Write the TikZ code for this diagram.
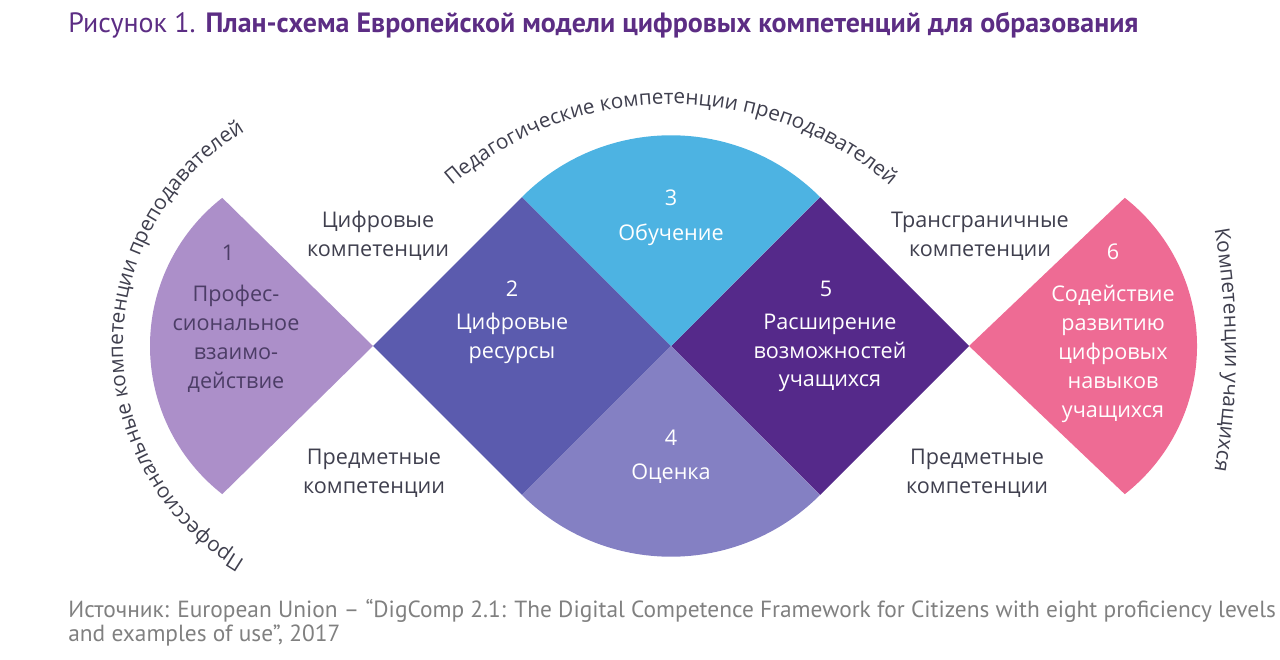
\documentclass[tikz,border=0pt]{standalone}
\usepackage{fontspec}
\usepackage{xcolor}
\usepackage{tikz}
\setmainfont{Open Sans}
\newfontfamily\captionfont{PT Sans}
\definecolor{profviolet}{RGB}{172, 143, 201}
\definecolor{resblue}{RGB}{91, 91, 174}
\definecolor{teachsky}{RGB}{77, 179, 226}
\definecolor{assessviolet}{RGB}{132, 128, 195}
\definecolor{empowerpurple}{RGB}{85, 41, 138}
\definecolor{learnerpink}{RGB}{238, 107, 148}
\definecolor{titlepurple}{RGB}{92, 45, 132}
\definecolor{labelgrey}{RGB}{63, 63, 78}
\definecolor{proftext}{RGB}{76, 61, 102}
\definecolor{sourcegrey}{RGB}{128, 128, 128}
\usetikzlibrary{positioning, calc, decorations.text}

\begin{document}
\begin{tikzpicture}[
        x=0.02cm, y=0.02cm,
        num/.style={align=center, font=\fontsize{12.3}{16.4}\selectfont, text=white, inner sep=0pt},
        area/.style={align=center, font=\fontsize{12.3}{16.4}\selectfont, text=white, inner sep=0pt},
        side/.style={align=center, font=\fontsize{12.3}{16.4}\selectfont, text=labelgrey, inner sep=0pt},
        ring/.style={decorate, decoration={text along path, text align=center,
                    text={|\fontsize{11.8}{14}\selectfont\color{labelgrey}|#1}}}
    ]
        \useasboundingbox (0,0) rectangle (1280,659);

        % Key points
        \coordinate (L) at (373,313);
        \coordinate (C) at (671,313);
        \coordinate (R) at (969,313);

        % Segments
        \fill[profviolet] (L) -- ($(338,313)+(128:188)$) arc[start angle=128, end angle=232, radius=188] -- cycle;
        \fill[resblue] (L) -- (522,462) -- (C) -- (522,164) -- cycle;
        \fill[empowerpurple] (C) -- (820,462) -- (R) -- (820,164) -- cycle;
        \fill[teachsky] (C) -- (522,462) arc[start angle=135, end angle=45, radius=210.7] -- cycle;
        \fill[assessviolet] (C) -- (522,164) arc[start angle=225, end angle=315, radius=210.7] -- cycle;
        \fill[learnerpink] (R) -- ($(1009,313)+(52:188)$) arc[start angle=52, end angle=-52, radius=188] -- cycle;

        % Segment texts
        \node[num, text=proftext] (n1) at (228,406) {1};
        \node[area, text=proftext] (prof) at (236,320) {Профес-\\сиональное\\взаимо-\\действие};
        \node[num] (n2) at (512,370) {2};
        \node[area] (res) at (512,321) {Цифровые\\ресурсы};
        \node[num] (n3) at (671,461) {3};
        \node[area] (teach) at (671,424) {Обучение};
        \node[num] (n4) at (671,221) {4};
        \node[area] (assess) at (671,185) {Оценка};
        \node[num] (n5) at (826,370) {5};
        \node[area] (empower) at (830,306) {Расширение\\возможностей\\учащихся};
        \node[num] (n6) at (1113,407) {6};
        \node[area] (learner) at (1113,305) {Содействие\\развитию\\цифровых\\навыков\\учащихся};

        % Side labels
        \node[side] (digital) at (378,423) {Цифровые\\компетенции};
        \node[side] (subjleft) at (374,186) {Предметные\\компетенции};
        \node[side] (transv) at (980,423) {Трансграничные\\компетенции};
        \node[side] (subjright) at (977,186) {Предметные\\компетенции};

        % Ring texts
        \path[ring={Профессиональные компетенции преподавателей}] (L) ++(249:250) arc[start angle=249, end angle=111, radius=250];
        \path[ring={Педагогические компетенции преподавателей}] (671,221) ++(140:334) arc[start angle=140, end angle=40, radius=334];
        \path[ring={Компетенции учащихся}] (525,309) ++(16:700) arc[start angle=16, end angle=-16, radius=700];

        % Title and source
        \node[anchor=base west, inner sep=0pt, text=titlepurple, font=\captionfont\fontsize{15.9}{18}\selectfont] (title) at (68,626)
            {Рисунок 1. \textbf{План-схема Европейской модели цифровых компетенций для образования}};
        \node[anchor=base west, inner sep=0pt, align=left, text=sourcegrey, font=\captionfont\fontsize{13.3}{13.6}\selectfont] (source) at (68,18)
            {Источник: European Union – “DigComp 2.1: The Digital Competence Framework for Citizens with eight proficiency levels\\and examples of use”, 2017};
    \end{tikzpicture}
\end{document}
